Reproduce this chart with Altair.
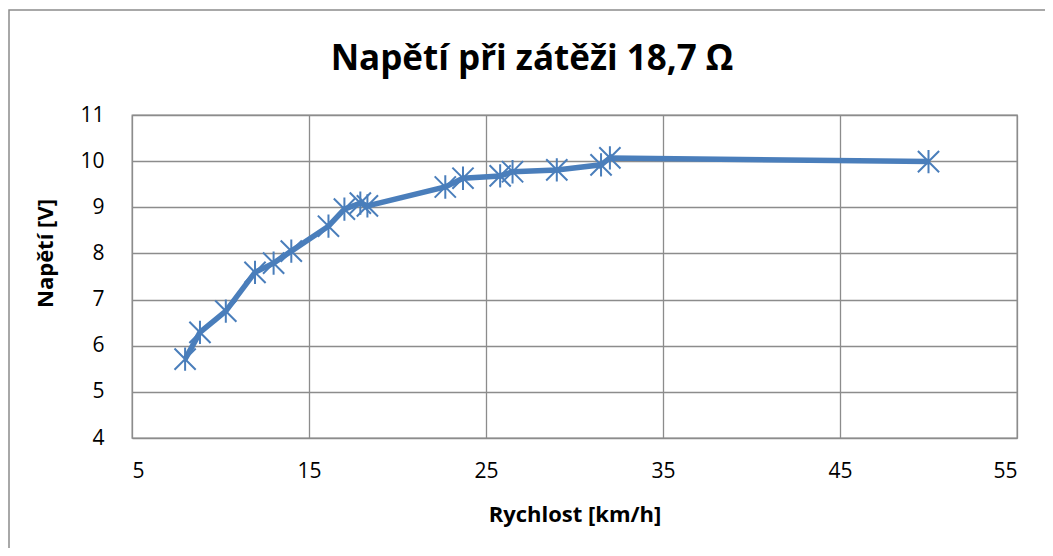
import altair as alt
import pandas as pd

speed = [8.0, 8.84, 10.3, 11.95, 13.0, 14.0, 16.1, 17.0, 17.9, 18.3,
         22.7, 23.7, 25.8, 26.5, 29.0, 31.5, 32.0, 50.0]
voltage = [5.71, 6.29, 6.75, 7.59, 7.79, 8.05, 8.59, 8.96, 9.09, 9.03,
           9.44, 9.63, 9.68, 9.77, 9.81, 9.92, 10.07, 9.99]
x_ticks = [5, 15, 25, 35, 45, 55]
y_ticks = [4, 5, 6, 7, 8, 9, 10, 11]
title_text = ["Napětí při zátěži 18,7 Ω"]

df = pd.DataFrame({"speed": speed, "voltage": voltage})
tdf = pd.DataFrame({"t": title_text})

FONT = "Open Sans"
BLUE = "#4A7EBB"
GRID = "#8c8c8c"

x = alt.X("speed:Q", scale=alt.Scale(domain=[5, 55], nice=False, zero=False),
          axis=alt.Axis(values=x_ticks, title="Rychlost [km/h]", grid=True,
                        ticks=False, labelPadding=22, titleY=83,
                        titleBaseline="alphabetic"))
y = alt.Y("voltage:Q", scale=alt.Scale(domain=[4, 11], nice=False, zero=False),
          axis=alt.Axis(values=y_ticks, title="Napětí [V]", grid=True,
                        ticks=False, labelPadding=28, titleAngle=270,
                        titleX=-87, titleY=138, titleAlign="center",
                        titleBaseline="middle"))

frame = alt.Chart(tdf).mark_rect(fill="transparent", stroke="#8c8c8c", strokeWidth=1.5).encode(
    x=alt.value(-123), x2=alt.value(930), y=alt.value(-105), y2=alt.value(451)
)

title = alt.Chart(tdf).mark_text(font=FONT, fontSize=35, fontWeight="bold",
                                 color="black", align="center",
                                 baseline="alphabetic").encode(
    x=alt.value(400), y=alt.value(-45), text="t:N"
)

line = alt.Chart(df).mark_line(color=BLUE, strokeWidth=5.5).encode(x=x, y=y)

star = "M-1,-1L1,1M-1,1L1,-1M0,-1.1L0,1.1"
points = alt.Chart(df).mark_point(shape=star, size=450, filled=False,
                                  color=BLUE, strokeWidth=2, opacity=1).encode(x=x, y=y)

chart = alt.layer(frame, title, line, points).properties(
    width=885, height=323,
    autosize=alt.AutoSizeParams(type="none"),
    padding={"left": 124, "top": 107, "right": 28, "bottom": 110},
).configure_view(stroke=GRID, strokeWidth=1.3).configure_axis(
    gridColor=GRID, gridWidth=1.3, domain=False,
    labelFont=FONT, labelFontSize=21, labelColor="black",
    titleFont=FONT, titleFontSize=22, titleFontWeight="bold", titleColor="black",
)

chart.save("out.html", embed_options={"renderer": "svg", "actions": False})
